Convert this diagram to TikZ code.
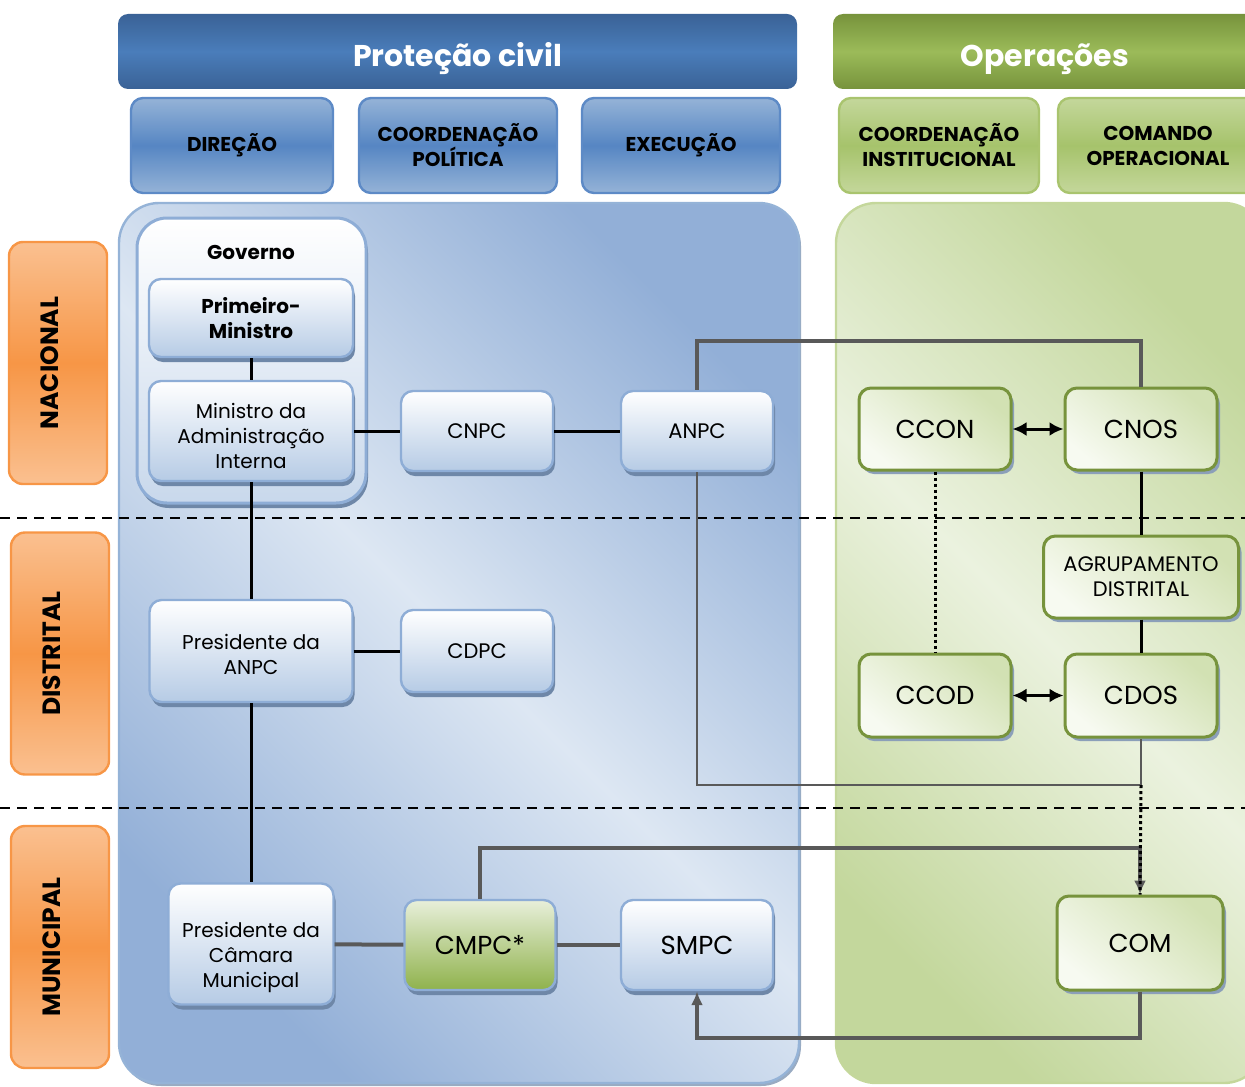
\documentclass[tikz,border=0pt]{standalone}
\usepackage{fontspec}
\setmainfont{Poppins}
\usetikzlibrary{shadows,arrows.meta}

\definecolor{barblue}{HTML}{3A6296}
\definecolor{barbluemid}{HTML}{4A7DBA}
\definecolor{headblue}{HTML}{95B3D7}
\definecolor{headbluemid}{HTML}{5686C3}
\definecolor{edgeblue}{HTML}{5D8AC6}
\definecolor{panelblue}{HTML}{92AFD7}
\definecolor{panellight}{HTML}{DDE7F3}
\definecolor{boxblue}{HTML}{B6CBE5}
\definecolor{boxedge}{HTML}{8EADD6}
\definecolor{shadowblue}{HTML}{6E87A8}
\definecolor{bargreen}{HTML}{77933C}
\definecolor{bargreenmid}{HTML}{9BBB59}
\definecolor{headgreen}{HTML}{C4D79B}
\definecolor{headgreenmid}{HTML}{A6C36B}
\definecolor{edgegreen}{HTML}{A9C46E}
\definecolor{panelgreen}{HTML}{C3D79C}
\definecolor{panelgreenlight}{HTML}{EBF2DF}
\definecolor{boxgreen}{HTML}{D2E1B3}
\definecolor{boxgreenlight}{HTML}{F7FAF1}
\definecolor{oliveedge}{HTML}{77933C}
\definecolor{cmpcgreen}{HTML}{8FB24C}
\definecolor{cmpclight}{HTML}{E8EFDA}
\definecolor{orangemid}{HTML}{F79646}
\definecolor{orangelight}{HTML}{FAC090}
\definecolor{linegray}{HTML}{595959}

\begin{document}
\begin{tikzpicture}[x=0.5pt, y=-0.5pt,
    titlebar/.style={rounded corners=5pt, inner sep=0pt, text=white, text height=17pt, text depth=2pt,
      font=\bfseries\fontsize{15}{18}\selectfont},
    bluebar/.style={titlebar, top color=barblue, bottom color=barblue, middle color=barbluemid},
    greenbar/.style={titlebar, top color=bargreen, bottom color=bargreen, middle color=bargreenmid},
    headbox/.style={rounded corners=6pt, line width=1.2pt, align=center, inner sep=0pt, minimum height=47.5pt,
      font=\bfseries\fontsize{10}{12.5}\selectfont},
    bluehead/.style={headbox, draw=edgeblue, top color=headblue, bottom color=headblue, middle color=headbluemid},
    greenhead/.style={headbox, draw=edgegreen, top color=headgreen, bottom color=headgreen, middle color=headgreenmid},
    level/.style={rounded corners=7pt, draw=orangemid, line width=1.2pt, minimum width=49pt, minimum height=121pt,
      top color=orangelight, bottom color=orangelight, middle color=orangemid},
    levelname/.style={rotate=90, xshift=0pt, font=\bfseries\fontsize{12.5}{14}\selectfont},
    panel/.style={rounded corners=20pt, line width=1.2pt, minimum width=#1, minimum height=440pt},
    orgbox/.style={rounded corners=6pt, draw=boxedge, line width=1.2pt, align=center, inner sep=1pt,
      top color=white, bottom color=boxblue, font=\fontsize{10}{12.5}\selectfont,
      drop shadow={shadow xshift=1pt, shadow yshift=-2.5pt, fill=shadowblue, opacity=1}},
    opbox/.style={rounded corners=6pt, draw=oliveedge, line width=1.5pt, align=center, inner sep=1pt,
      top color=boxgreen, bottom color=boxgreenlight, shading angle=-40, font=\fontsize{13}{15}\selectfont,
      drop shadow={shadow xshift=1.5pt, shadow yshift=-2pt, fill=shadowblue!80, opacity=1}},
    link/.style={draw=black, line width=1.5pt},
    graylink/.style={draw=linegray, line width=2pt},
    twoway/.style={link, {Latex[length=7pt,width=7pt]}-{Latex[length=7pt,width=7pt]}},
    levelline/.style={draw=black, line width=1.2pt, dash pattern=on 5pt off 3.5pt}]

  \useasboundingbox (0,0) rectangle (1245,1086);
  \clip (0,0) rectangle (1245,1086);

  % colunas
  \node[bluebar, minimum width=339.5pt, minimum height=37.5pt] (pc_bar) at (457.5,51.5) {Proteção civil};
  \node[greenbar, minimum width=212pt, minimum height=37.5pt] (op_bar) at (1045,51.5) {Operações};

  \node[bluehead, minimum width=101pt] (h_dir) at (232,145.5) {DIREÇÃO};
  \node[bluehead, minimum width=99pt] (h_pol) at (458,145.5) {COORDENAÇÃO\\POLÍTICA};
  \node[bluehead, minimum width=99pt] (h_exe) at (681,145.5) {EXECUÇÃO};
  \node[greenhead, minimum width=100pt] (h_inst) at (939,145.5) {COORDENAÇÃO\\INSTITUCIONAL};
  \node[greenhead, minimum width=100pt] (h_cmd) at (1158,145.5) {COMANDO\\OPERACIONAL};

  \node[panel=340pt, draw=headblue, top color=panelblue, bottom color=panelblue, middle color=panellight, shading angle=-45,
    drop shadow={shadow xshift=1pt, shadow yshift=-1.5pt, fill=shadowblue!70, opacity=1}] (pc_panel) at (459,643) {};
  \node[panel=214pt, draw=headgreen, top color=panelgreen, bottom color=panelgreen, middle color=panelgreenlight, shading angle=-45] (op_panel) at (1050,643) {};

  % niveis
  \node[level] (lv_nac) at (58,363) {};
  \node[level] (lv_dis) at (60,653.5) {};
  \node[level] (lv_mun) at (60,947) {};
  \node[levelname] (nac_txt) at (50,363) {NACIONAL};
  \node[levelname] (dis_txt) at (52,653.5) {DISTRITAL};
  \node[levelname] (mun_txt) at (52,947) {MUNICIPAL};

  \coordinate (nd_l) at (0,518);
  \coordinate (nd_r) at (1245,518);
  \coordinate (dm_l) at (0,808);
  \coordinate (dm_r) at (1245,808);
  \path[levelline] (nd_l) -- (nd_r);
  \path[levelline] (dm_l) -- (dm_r);

  % protecao civil
  \node[orgbox, rounded corners=15pt, line width=1.5pt, bottom color=boxblue!75, minimum width=114.5pt, minimum height=142.5pt] (governo) at (251.5,360.5) {};
  \node[font=\bfseries\fontsize{10}{12}\selectfont] (gov_txt) at (251,252) {Governo};
  \node[orgbox, minimum width=102pt, minimum height=39pt, font=\bfseries\fontsize{10}{12.5}\selectfont] (pm) at (251,318) {Primeiro-\\Ministro};
  \node[orgbox, minimum width=102pt, minimum height=50pt] (mai) at (251,431) {\rule{0pt}{13pt}Ministro da\\Administração\\Interna};
  \node[orgbox, minimum width=76pt, minimum height=40pt, font=\fontsize{10.5}{12.5}\selectfont] (cnpc) at (477,431) {CNPC};
  \node[orgbox, minimum width=76pt, minimum height=40pt, font=\fontsize{10.5}{12.5}\selectfont] (anpc) at (697,431) {ANPC};
  \node[orgbox, minimum width=101.5pt, minimum height=51pt] (pres_anpc) at (251,651) {\rule{0pt}{11pt}Presidente da\\ANPC};
  \node[orgbox, minimum width=76pt, minimum height=41pt, font=\fontsize{10.5}{12.5}\selectfont] (cdpc) at (477,651) {CDPC};
  \node[orgbox, minimum width=82.5pt, minimum height=60.5pt] (pres_cm) at (251,944) {\rule{0pt}{21pt}Presidente da\\Câmara\\Municipal};
  \node[orgbox, top color=cmpclight, bottom color=cmpcgreen, minimum width=75.5pt, minimum height=45pt, font=\fontsize{13}{15}\selectfont] (cmpc) at (480,945) {CMPC*};
  \node[orgbox, minimum width=76pt, minimum height=45pt, font=\fontsize{13}{15}\selectfont] (smpc) at (697,945) {SMPC};

  % operacoes
  \node[opbox, minimum width=76pt, minimum height=41pt] (ccon) at (935,429) {CCON};
  \node[opbox, minimum width=76pt, minimum height=41pt] (cnos) at (1141,429) {CNOS};
  \node[opbox, minimum width=97.5pt, minimum height=41pt, font=\fontsize{10.5}{12.5}\selectfont] (agrup) at (1141,577) {AGRUPAMENTO\\DISTRITAL};
  \node[opbox, minimum width=76pt, minimum height=41.5pt] (ccod) at (935,695.5) {CCOD};
  \node[opbox, minimum width=76pt, minimum height=41.5pt] (cdos) at (1141,695.5) {CDOS};
  \node[opbox, minimum width=83pt, minimum height=47pt] (com) at (1140,943) {COM};

  \coordinate (anpc_up) at (1141,341);
  \coordinate (anpc_dn) at (1141,785);
  \coordinate (cmpc_up) at (1140,848);
  \coordinate (com_dn) at (697,1038);

  % ligacoes
  \path[link] (pm) -- (mai);
  \path[link] (mai) -- (cnpc);
  \path[link] (cnpc) -- (anpc);
  \path[link] (mai) -- (pres_anpc);
  \path[link] (pres_anpc) -- (cdpc);
  \path[link] (pres_anpc) -- (pres_cm);
  \path[graylink] (pres_cm) -- (cmpc);
  \path[graylink] (cmpc) -- (smpc);
  \path[graylink] (anpc.north) |- (anpc_up) -- (cnos.north);
  \path[graylink, line width=1.3pt] (anpc.south) |- (anpc_dn) -- (cdos.south);
  \path[link] (cnos) -- (agrup);
  \path[link] (agrup) -- (cdos);
  \path[link, dash pattern=on 1.5pt off 1.5pt] (ccon) -- (ccod);
  \path[twoway] (ccon) -- (cnos);
  \path[twoway] (ccod) -- (cdos);
  \path[graylink, -{Latex[length=7pt,width=6pt]}] (cmpc.north) |- (cmpc_up) -- (com.north);
  \path[link, dash pattern=on 1.5pt off 1.5pt] (anpc_dn) -- (com.north);
  \path[graylink, -{Latex[length=7pt,width=6pt]}] (com.south) |- (com_dn) -- (smpc.south);
\end{tikzpicture}
\end{document}
